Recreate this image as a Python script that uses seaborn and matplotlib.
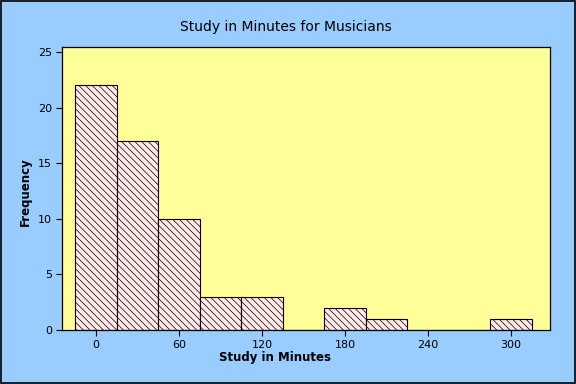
import matplotlib
matplotlib.use("Agg")
import matplotlib.pyplot as plt
import seaborn as sns
import numpy as np
import pandas as pd

# Data
bin_centers = [0, 30, 60, 90, 120, 150, 180, 210, 240, 270, 300]
frequencies = [22, 17, 10, 3, 3, 0, 2, 1, 0, 0, 1]
bin_width = 30
x_ticks = [0, 60, 120, 180, 240, 300]
y_ticks = [0, 5, 10, 15, 20, 25]
title = "Study in Minutes for Musicians"
x_label = "Study in Minutes"
y_label = "Frequency"

sns.set_style("ticks")
plt.rcParams['font.family'] = ['DejaVu Sans']
plt.rcParams['hatch.linewidth'] = 0.5
plt.rcParams['hatch.color'] = 'black'
plt.rcParams['text.color'] = 'black'
plt.rcParams['axes.labelcolor'] = 'black'
plt.rcParams['xtick.color'] = 'black'
plt.rcParams['ytick.color'] = 'black'

df = pd.DataFrame({"minutes": bin_centers, "count": frequencies})
edges = [bin_centers[0] - bin_width / 2 + i * bin_width for i in range(len(bin_centers) + 1)]

fig = plt.figure(figsize=(5.76, 3.84), dpi=100)
fig.patch.set_facecolor('#99CCFF')
ax = fig.add_axes([62/576, 1 - 330/384, (550-62)/576, (330-47)/384])
ax.set_facecolor('#FFFF99')

sns.histplot(data=df, x="minutes", weights="count", bins=edges, ax=ax,
             color='#FFE8E8', edgecolor='black', linewidth=0.8, alpha=1,
             hatch='\\' * 5)

ax.set_xlim(-24.6, 328.2)
ax.set_ylim(0, 25.45)
ax.set_xticks(x_ticks)
ax.set_yticks(y_ticks)
ax.tick_params(axis='both', labelsize=8, length=4, width=0.8, color='black', pad=3)
for s in ax.spines.values():
    s.set_color('black')
    s.set_linewidth(0.9)

ax.set_xlabel(x_label, fontsize=8.5, fontweight='bold')
ax.set_ylabel(y_label, fontsize=8.5, fontweight='bold')
ax.xaxis.set_label_coords((275 - 62) / 488, -0.075)
ax.yaxis.set_label_coords(-0.062, 0.49)

fig.text(0.497, 1 - 27/384, title, ha='center', va='center', fontsize=10)

border = plt.Rectangle((0.001, 0.0015), 0.998, 0.997, transform=fig.transFigure,
                       fill=False, edgecolor='black', linewidth=1.2)
fig.add_artist(border)

fig.savefig("out.png", dpi=100, facecolor=fig.get_facecolor())
